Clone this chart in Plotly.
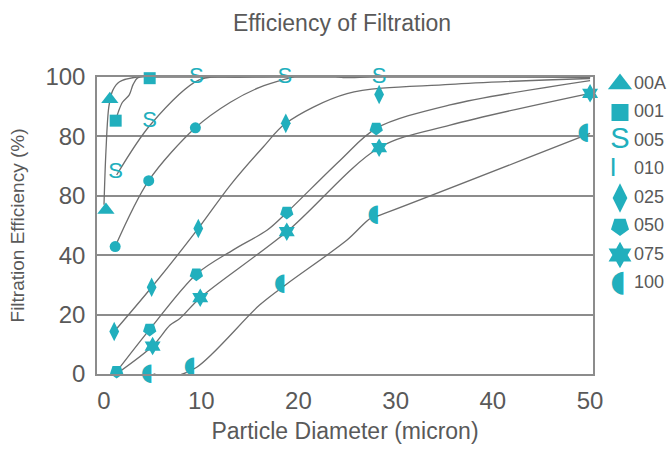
import plotly.graph_objects as go

# ---------------- data ----------------
x_tick_vals = [0, 10, 20, 30, 40, 50]
y_tick_vals = [0, 20, 40, 60, 80, 100]
y_tick_text = ["0", "20", "40", "80", "80", "100"]

series_names = ["00A", "001", "005", "010", "025", "050", "075", "100"]

# marker points
m00A_x = [0.2, 0.6]
m00A_y = [55.2, 92.5]
m001_x = [1.2, 4.7]
m001_y = [85.3, 99.6]
m005_x = [1.2, 4.7, 9.5, 18.6, 28.3]
m005_y = [68.0, 84.9, 100.0, 100.0, 100.0]
m010_x = [1.15, 4.6, 9.4]
m010_y = [42.9, 65.1, 82.9]
m025_x = [1.05, 4.9, 9.7, 18.7, 28.3]
m025_y = [14.3, 29.2, 49.0, 84.4, 94.1]
m050_x = [1.3, 4.7, 9.5, 18.8, 28.0]
m050_y = [0.8, 15.0, 33.6, 54.4, 82.7]
m075_x = [5.0, 9.9, 18.8, 28.3, 50.0]
m075_y = [9.4, 25.7, 47.9, 76.2, 94.5]
m100_x = [5.1, 9.5, 18.8, 28.4, 50.0]
m100_y = [0.0, 2.2, 30.3, 53.5, 81.0]

# curve points
l00A_x = [0.0, 0.2, 0.5, 0.9, 1.6, 3.4, 50.0]
l00A_y = [57.0, 75.0, 90.0, 95.5, 98.4, 100.0, 100.0]
l001_x = [1.2, 1.5, 1.9, 2.6, 3.0, 3.5, 4.7, 50.0]
l001_y = [85.3, 88.5, 91.5, 94.0, 97.5, 99.8, 100.0, 100.0]
l005_x = [1.3, 4.8, 9.8, 14.0, 50.0]
l005_y = [67.0, 84.0, 99.0, 100.0, 100.0]
l010_x = [1.15, 4.6, 9.4, 13.0, 16.0, 19.0, 21.5, 24.6, 29.0, 50.0]
l010_y = [42.9, 65.1, 82.9, 91.5, 96.5, 99.6, 101.7, 99.8, 100.5, 100.0]
l025_x = [1.05, 4.9, 9.7, 13.0, 16.4, 18.7, 25.0, 35.6, 50.0]
l025_y = [14.3, 29.2, 49.0, 63.6, 76.5, 84.4, 94.4, 97.5, 99.5]
l050_x = [1.3, 4.7, 9.5, 13.3, 16.8, 18.8, 24.3, 28.0, 35.6, 50.0]
l050_y = [0.8, 15.0, 33.6, 41.8, 48.5, 54.4, 72.0, 82.7, 90.6, 98.8]
l075_x = [1.4, 5.0, 6.8, 7.8, 9.9, 18.8, 28.3, 35.6, 50.0]
l075_y = [0.3, 9.4, 16.5, 18.7, 25.7, 47.9, 76.2, 83.8, 94.5]
l100_x = [5.1, 6.8, 9.5, 16.0, 18.8, 25.0, 27.4, 28.4, 50.0]
l100_y = [0.0, -0.9, 2.2, 23.2, 30.3, 45.1, 52.4, 53.5, 81.0]

# ---------------- style ----------------
TEAL = "#21afbd"
LINE = "#6e6e6e"
GRID = "#8c8c8c"
TXT = "#595959"
FONT = "Liberation Sans, Arial, sans-serif"

W, H = 670, 452
L, R, T, B = 97, 593, 77, 374

fig = go.Figure()

curves = [(l00A_x, l00A_y), (l001_x, l001_y), (l005_x, l005_y), (l010_x, l010_y),
          (l025_x, l025_y), (l050_x, l050_y), (l075_x, l075_y), (l100_x, l100_y)]
for cx, cy in curves:
    fig.add_trace(go.Scatter(x=cx, y=cy, mode="lines",
                             line=dict(color=LINE, width=1.3, shape="spline", smoothing=0.9),
                             hoverinfo="skip", showlegend=False, cliponaxis=False))

def sym_trace(x, y, symbol, size, angle=0, xa="x", ya="y"):
    return go.Scatter(x=x, y=y, mode="markers", xaxis=xa, yaxis=ya,
                      marker=dict(symbol=symbol, size=size, color=TEAL, angle=angle,
                                  line=dict(width=0)),
                      showlegend=False, cliponaxis=False)

def txt_trace(x, y, ch, size, pos="middle center", xa="x", ya="y", fam=FONT):
    return go.Scatter(x=x, y=y, mode="text", text=[ch] * len(x), xaxis=xa, yaxis=ya,
                      textposition=pos, textfont=dict(color=TEAL, size=size, family=fam),
                      showlegend=False, cliponaxis=False)

fig.add_trace(sym_trace(m00A_x, m00A_y, "triangle-up", 15))
fig.add_trace(sym_trace(m001_x, m001_y, "square", 12))
fig.add_trace(txt_trace(m005_x, m005_y, "S", 22))
fig.add_trace(sym_trace(m010_x, m010_y, "circle", 11))
fig.add_trace(sym_trace(m025_x, m025_y, "diamond-tall", 14))
fig.add_trace(sym_trace(m050_x, m050_y, "pentagon", 14, angle=180))
fig.add_trace(sym_trace(m075_x, m075_y, "hexagram", 14))
fig.add_trace(txt_trace(m100_x, m100_y, "◖", 24, pos="middle left", fam="DejaVu Sans"))

# ---------------- custom legend (pixel coordinates) ----------------
leg_left = 600
row_y = [84 + i * 28.5 for i in range(len(series_names))]
sym_x = 620

fig.add_trace(sym_trace([sym_x], [row_y[0]], "triangle-up", 21, xa="x2", ya="y2"))
fig.add_trace(sym_trace([sym_x], [row_y[1]], "square", 17, xa="x2", ya="y2"))
fig.add_trace(txt_trace([sym_x], [row_y[2]], "S", 29, xa="x2", ya="y2"))
fig.add_trace(txt_trace([sym_x - 7], [row_y[3]], "I", 26, xa="x2", ya="y2"))
fig.add_trace(sym_trace([sym_x], [row_y[4]], "diamond-tall", 21, xa="x2", ya="y2"))
fig.add_trace(sym_trace([sym_x], [row_y[5]], "pentagon", 19, angle=180, xa="x2", ya="y2"))
fig.add_trace(sym_trace([sym_x], [row_y[6]], "hexagram", 20, xa="x2", ya="y2"))
fig.add_trace(txt_trace([sym_x + 6], [row_y[7]], "◖", 30, pos="middle left", xa="x2", ya="y2",
                        fam="DejaVu Sans"))
fig.add_trace(go.Scatter(x=[634] * len(series_names), y=row_y, mode="text",
                         text=series_names, textposition="middle right",
                         textfont=dict(color=TXT, size=18, family=FONT),
                         xaxis="x2", yaxis="y2", showlegend=False, cliponaxis=False))

plot_w = W - L
x_dom_end = (R - L) / plot_w

fig.update_layout(
    template="none",
    width=W, height=H,
    margin=dict(l=L, r=0, t=T, b=H - B, pad=0, autoexpand=False),
    paper_bgcolor="white", plot_bgcolor="white",
    font=dict(family=FONT, color=TXT),
    title=dict(text="Efficiency of Filtration", x=342 / W, xref="container",
               xanchor="center", y=1 - 23 / H, yref="container", yanchor="middle",
               font=dict(size=23, color=TXT, family=FONT)),
    showlegend=False,
    xaxis=dict(domain=[0, x_dom_end], range=[-0.72, 50.3], tickvals=x_tick_vals,
               automargin=False,
               showgrid=False, zeroline=False, showline=True, mirror=True,
               linecolor=GRID, linewidth=1.5, ticks="", ticklabelstandoff=4,
               tickfont=dict(size=24, color=TXT),
               title=dict(text="Particle Diameter (micron)", standoff=10,
                          font=dict(size=23, color=TXT))),
    yaxis=dict(range=[0, 100], tickvals=y_tick_vals, ticktext=y_tick_text,
               automargin=False,
               showgrid=True, gridcolor=GRID, gridwidth=1.5, zeroline=False,
               showline=True, mirror=True, linecolor=GRID, linewidth=1.5, ticks="",
               ticklabelstandoff=5, tickfont=dict(size=24, color=TXT),
               title=dict(text="Filtration Efficiency (%)", standoff=16,
                          font=dict(size=19, color=TXT))),
    xaxis2=dict(domain=[(leg_left - L) / plot_w, 1], range=[leg_left, W],
                visible=False, anchor="y2", automargin=False),
    yaxis2=dict(domain=[0, 1], range=[B, T], visible=False, anchor="x2",
                automargin=False),
)

fig.write_html("out.html", config={"displayModeBar": False},
               post_script="document.body.style.margin='0';document.body.style.overflow='hidden';")
